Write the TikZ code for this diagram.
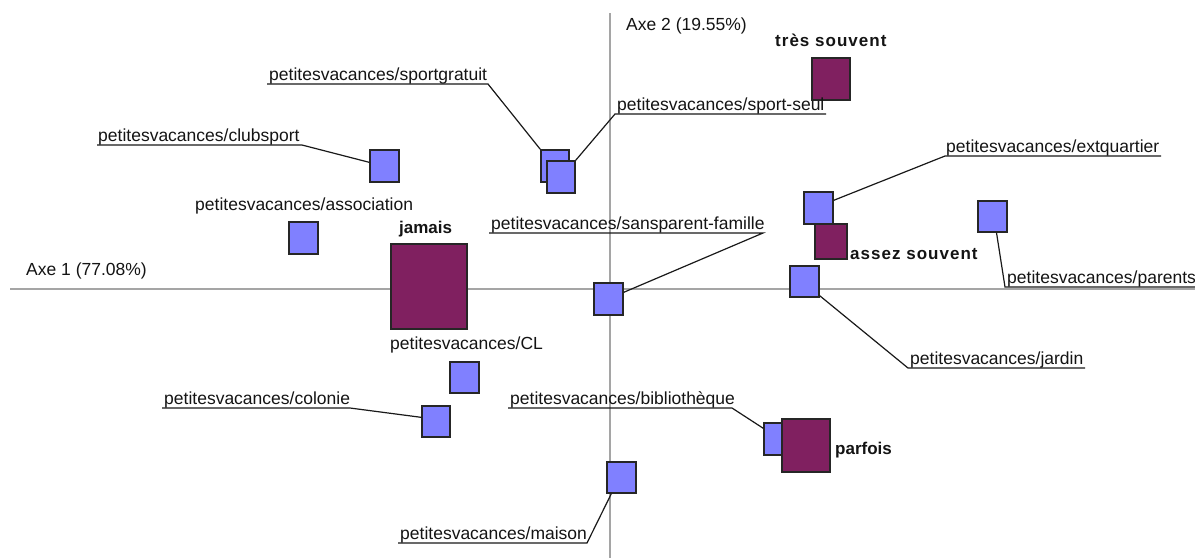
\documentclass[tikz,border=0pt]{standalone}
\usepackage{fontspec}
\setmainfont{Liberation Sans}
\definecolor{sqblue}{RGB}{128,128,255}
\definecolor{sqpurple}{RGB}{128,32,96}
\definecolor{axisgray}{RGB}{165,165,165}
\definecolor{txt}{RGB}{20,20,20}
\begin{document}
\begin{tikzpicture}[x=1pt,y=-1pt,
  axisline/.style={draw=axisgray,line width=1.1pt},
  bsq/.style={rectangle,draw=black!85,line width=1.3pt,fill=sqblue,inner sep=0pt},
  psq/.style={rectangle,draw=black!85,line width=1.3pt,fill=sqpurple,inner sep=0pt},
  lbl/.style={anchor=base west,inner sep=0pt,text=txt,font=\fontsize{17.5}{20}\selectfont},
  cat/.style={anchor=base west,inner sep=0pt,text=txt,font=\fontsize{17}{20}\selectfont\bfseries},
  catsp/.style={cat,font=\fontsize{17}{20}\selectfont\bfseries\addfontfeature{LetterSpace=6}},
  leader/.style={draw=black!90,line width=1.2pt}
]
\useasboundingbox (0,0) rectangle (1195,558);
\fill[white] (0,0) rectangle (1195,558);
% axes
\coordinate (hA) at (10,289);
\coordinate (hB) at (1195,289);
\coordinate (vA) at (610,13);
\coordinate (vB) at (610,558);
\draw[axisline] (hA) -- (hB);
\draw[axisline] (vA) -- (vB);
\node[lbl] (axe1) at (26,275) {Axe 1 (77.08\%)};
\node[lbl] (axe2) at (626,30) {Axe 2 (19.55\%)};

% blue squares
\node[bsq,minimum width=29pt,minimum height=32pt] (clubsport) at (384.5,166) {};
\node[bsq,minimum width=29pt,minimum height=32pt] (association) at (303.5,238) {};
\node[bsq,minimum width=28pt,minimum height=32pt] (sportgratuit) at (555,166) {};
\node[bsq,minimum width=28pt,minimum height=32pt] (sportseul) at (561,177) {};
\node[bsq,minimum width=29pt,minimum height=32pt] (sansparent) at (608.5,299) {};
\node[bsq,minimum width=29pt,minimum height=32pt] (extquartier) at (818.5,208) {};
\node[bsq,minimum width=29pt,minimum height=31pt] (parents) at (992.5,216.5) {};
\node[bsq,minimum width=29pt,minimum height=31pt] (jardin) at (804.5,281.5) {};
\node[bsq,minimum width=29pt,minimum height=31pt] (CL) at (464.5,377.5) {};
\node[bsq,minimum width=28pt,minimum height=31pt] (colonie) at (436,421.5) {};
\node[bsq,minimum width=29pt,minimum height=31pt] (maison) at (621.5,477.5) {};
\node[bsq,minimum width=29pt,minimum height=32pt] (biblio) at (778.5,439) {};

% purple squares
\node[psq,minimum width=38pt,minimum height=42pt] (tres) at (831,79) {};
\node[psq,minimum width=32pt,minimum height=35pt] (assez) at (831,241.5) {};
\node[psq,minimum width=76pt,minimum height=85pt] (jamais) at (429,286.5) {};
\node[psq,minimum width=48pt,minimum height=53pt] (parfois) at (806,445.5) {};

% category labels
\node[catsp] (lTres) at (775,46) {très souvent};
\node[catsp] (lAssez) at (850,259) {assez souvent};
\node[cat] (lJamais) at (399,233) {jamais};
\node[cat] (lParfois) at (835,454) {parfois};

% point labels
\node[lbl] (tSportgratuit) at (269,80) {petitesvacances/sportgratuit};
\node[lbl] (tSportseul) at (617,110) {petitesvacances/sport-seul};
\node[lbl] (tClubsport) at (98,141) {petitesvacances/clubsport};
\node[lbl] (tAssociation) at (195,210) {petitesvacances/association};
\node[lbl] (tSansparent) at (491,229) {petitesvacances/sansparent-famille};
\node[lbl] (tExtquartier) at (946,152) {petitesvacances/extquartier};
\node[lbl] (tParents) at (1007,283) {petitesvacances/parents};
\node[lbl] (tJardin) at (910,364) {petitesvacances/jardin};
\node[lbl] (tCL) at (390,349) {petitesvacances/CL};
\node[lbl] (tColonie) at (164,404) {petitesvacances/colonie};
\node[lbl] (tBiblio) at (510,404) {petitesvacances/bibliothèque};
\node[lbl] (tMaison) at (400,539) {petitesvacances/maison};

% leader coordinates (knee, far end of underline)
\coordinate (kSportgratuit) at (488,84);  \coordinate (eSportgratuit) at (267,84);
\coordinate (kSportseul) at (615,114);    \coordinate (eSportseul) at (826,114);
\coordinate (kClubsport) at (302,145);    \coordinate (eClubsport) at (97,145);
\coordinate (kSansparent) at (763,233);   \coordinate (eSansparent) at (489,233);
\coordinate (kExtquartier) at (945,156);  \coordinate (eExtquartier) at (1161,156);
\coordinate (kParents) at (1005,287);     \coordinate (eParents) at (1195,287);
\coordinate (kJardin) at (908,368);       \coordinate (eJardin) at (1085,368);
\coordinate (kColonie) at (350,408);      \coordinate (eColonie) at (162,408);
\coordinate (kBiblio) at (732,408);       \coordinate (eBiblio) at (508,408);
\coordinate (kMaison) at (587,543);       \coordinate (eMaison) at (398,543);

% leaders
\draw[leader] (sportgratuit.north west) -- (kSportgratuit) -- (eSportgratuit);
\draw[leader] (sportseul.north east) -- (kSportseul) -- (eSportseul);
\draw[leader] ([yshift=-13pt]clubsport.north west) -- (kClubsport) -- (eClubsport);
\draw[leader] ([yshift=-10pt]sansparent.north east) -- (kSansparent) -- (eSansparent);
\draw[leader] ([yshift=-9pt]extquartier.north east) -- (kExtquartier) -- (eExtquartier);
\draw[leader] ([xshift=4pt]parents.south) -- (kParents) -- (eParents);
\draw[leader] ([yshift=2pt]jardin.south east) -- (kJardin) -- (eJardin);
\draw[leader] ([yshift=-12pt]colonie.north west) -- (kColonie) -- (eColonie);
\draw[leader] ([yshift=-6pt]biblio.north west) -- (kBiblio) -- (eBiblio);
\draw[leader] ([xshift=5pt]maison.south west) -- (kMaison) -- (eMaison);
\end{tikzpicture}
\end{document}
